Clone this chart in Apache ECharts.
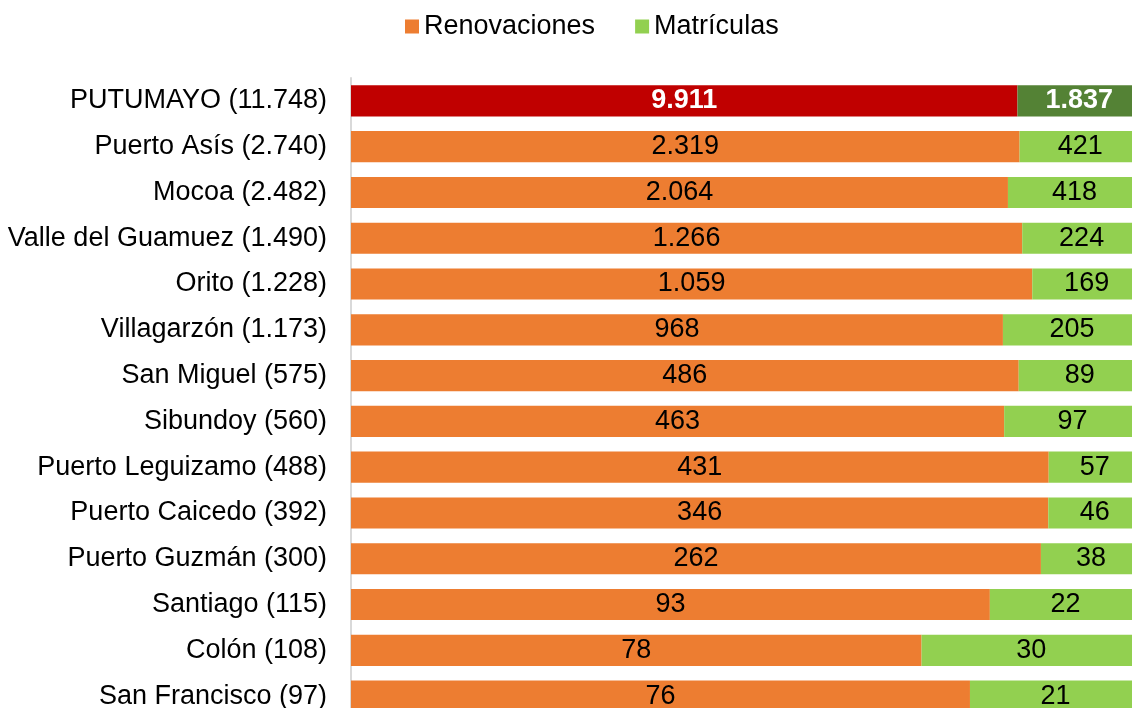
<!DOCTYPE html>
<html lang="es">
<head>
    <meta charset="UTF-8">
    <title>Renovaciones y Matrículas - Putumayo</title>
    <script src="https://cdn.jsdelivr.net/npm/echarts@6.0.0/dist/echarts.min.js"></script>
    <style>
        html, body { margin: 0; padding: 0; background: #fff; }
        #chart { width: 1132px; height: 708px; }
    </style>
</head>
<body>
<div id="chart"></div>
<script type="text/javascript">
    const municipios = ['PUTUMAYO', 'Puerto Asís', 'Mocoa', 'Valle del Guamuez', 'Orito', 'Villagarzón',
        'San Miguel', 'Sibundoy', 'Puerto Leguizamo', 'Puerto Caicedo', 'Puerto Guzmán', 'Santiago',
        'Colón', 'San Francisco'];
    const renovaciones = [9911, 2319, 2064, 1266, 1059, 968, 486, 463, 431, 346, 262, 93, 78, 76];
    const matriculas = [1837, 421, 418, 224, 169, 205, 89, 97, 57, 46, 38, 22, 30, 21];

    const FONT = 'Liberation Sans, Arial, sans-serif';
    const FS = 27;

    function fmt(n) {
        return String(n).replace(/\B(?=(\d{3})+(?!\d))/g, '.');
    }

    const totals = renovaciones.map((r, i) => r + matriculas[i]);
    const labels = municipios.map((m, i) => m + ' (' + fmt(totals[i]) + ')');

    // share of each municipality's total, raw value kept for the label
    function buildData(values, colorTotal) {
        return values.map((v, i) => {
            const item = {value: v / totals[i], raw: v};
            if (i === 0) {
                item.itemStyle = {color: colorTotal};
                item.label = {color: '#fff', fontWeight: 'bold'};
            }
            return item;
        });
    }

    let chart = echarts.init(document.getElementById('chart'));
    chart.setOption({
        animation: false,
        textStyle: {fontFamily: FONT},
        legend: {
            top: 8,
            left: 400,
            itemWidth: 14,
            itemHeight: 14,
            itemGap: 40,
            icon: 'rect',
            textStyle: {fontSize: FS, color: '#000', fontFamily: FONT},
            data: ['Renovaciones', 'Matrículas']
        },
        grid: {
            left: 351,
            top: 78,
            width: 790,
            height: 641,
            containLabel: false,
            outerBoundsMode: 'none'
        },
        xAxis: {
            type: 'value',
            min: 0,
            max: 1,
            show: false
        },
        yAxis: {
            type: 'category',
            inverse: true,
            data: labels,
            axisLine: {show: true, lineStyle: {color: '#d9d9d9', width: 2}},
            axisTick: {show: false},
            axisLabel: {
                fontSize: FS,
                color: '#000',
                margin: 24,
                fontFamily: FONT
            }
        },
        series: [
            {
                name: 'Renovaciones',
                type: 'bar',
                stack: 'total',
                barCategoryGap: '32%',
                itemStyle: {color: '#ED7D31'},
                label: {
                    show: true,
                    position: 'inside',
                    fontSize: FS,
                    color: '#000',
                    fontFamily: FONT,
                    formatter: p => fmt(p.data.raw)
                },
                data: buildData(renovaciones, '#C00000')
            },
            {
                name: 'Matrículas',
                type: 'bar',
                stack: 'total',
                barCategoryGap: '32%',
                itemStyle: {color: '#92D050'},
                label: {
                    show: true,
                    position: 'inside',
                    fontSize: FS,
                    color: '#000',
                    fontFamily: FONT,
                    formatter: p => fmt(p.data.raw)
                },
                data: buildData(matriculas, '#548235')
            }
        ]
    });
</script>
</body>
</html>
